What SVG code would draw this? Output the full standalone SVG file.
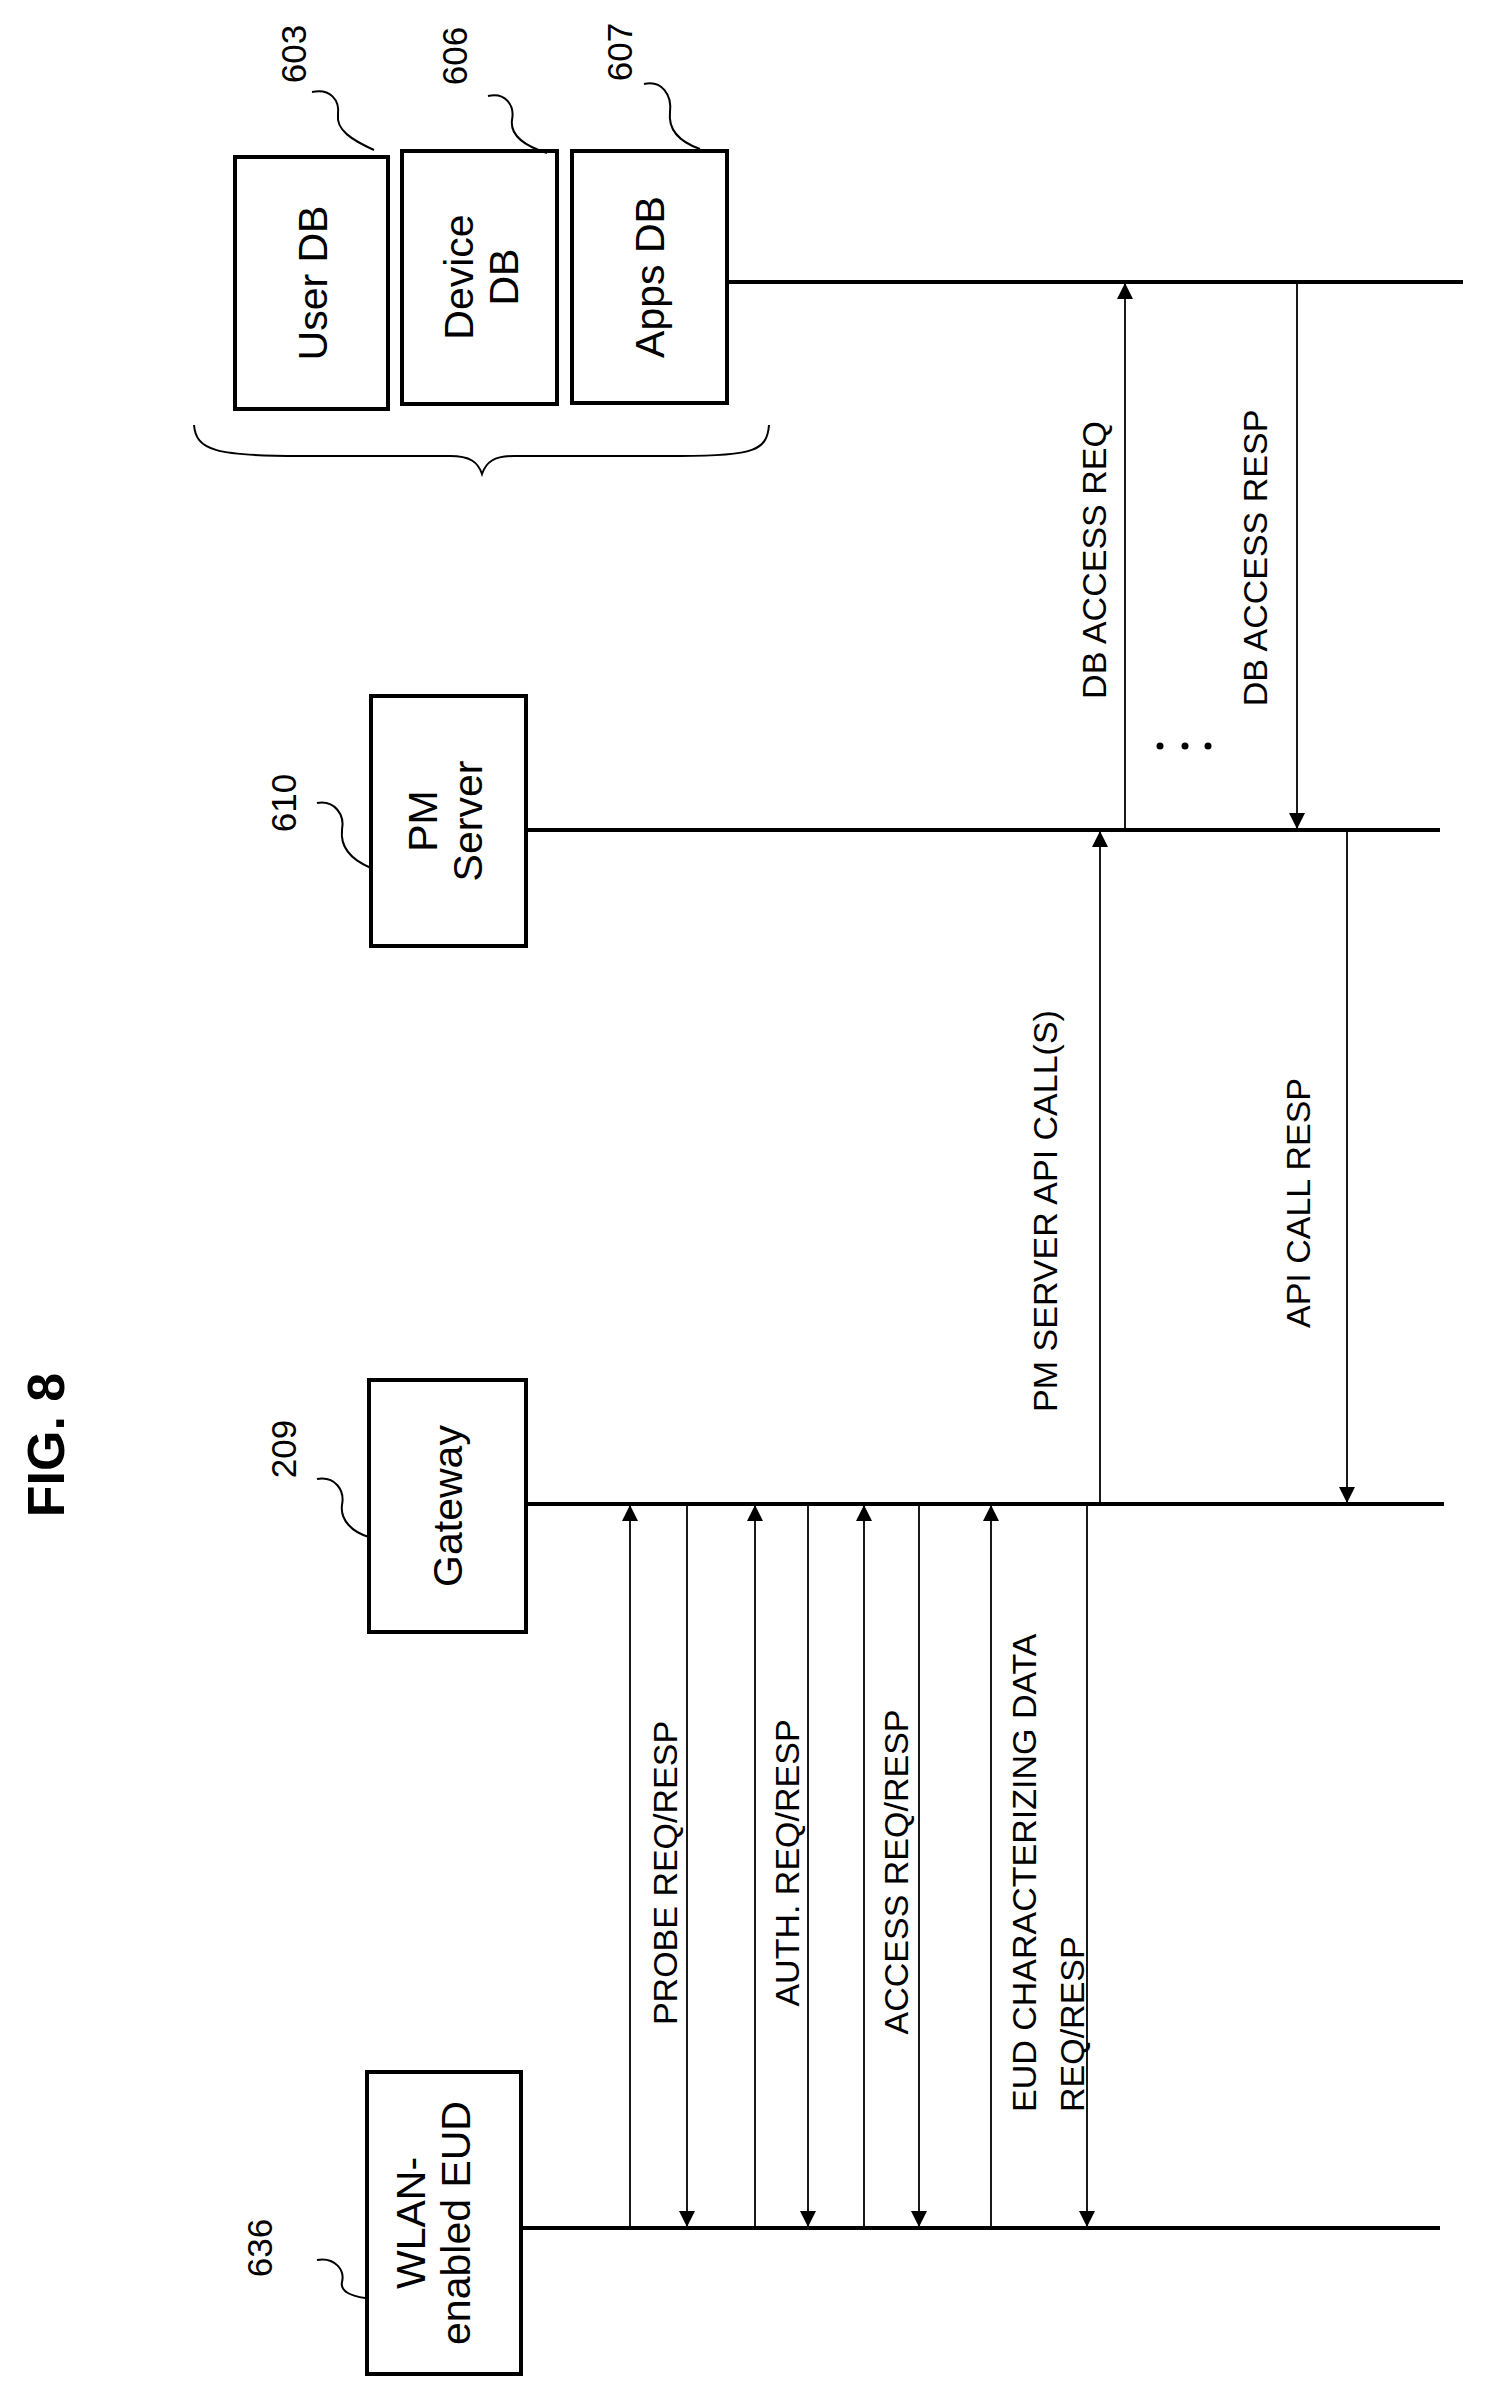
<svg xmlns="http://www.w3.org/2000/svg" width="1485" height="2396" viewBox="0 0 1485 2396">
<defs>
<marker id="ah" viewBox="0 0 10 10" refX="10" refY="5" markerWidth="20" markerHeight="16" markerUnits="userSpaceOnUse" orient="auto"><path d="M0,0 L10,5 L0,10 z" fill="#000"/></marker>
<style>
text{font-family:"Liberation Sans",Arial,sans-serif;fill:#000}
.box{fill:#fff;stroke:#000;stroke-width:4}
.life{stroke:#000;stroke-width:4;fill:none}
.msg{stroke:#000;stroke-width:1.8;fill:none;marker-end:url(#ah)}
.lead{stroke:#000;stroke-width:2;fill:none}
.bt{font-size:41px;text-anchor:middle}
.ml{font-size:34px;text-anchor:middle}
.num{font-size:35px;text-anchor:middle}
</style>
</defs>
<rect width="1485" height="2396" fill="#fff"/>
<text transform="translate(64,1445) rotate(-90)" font-size="52" font-weight="bold" text-anchor="middle">FIG. 8</text>
<g id="userdb"><rect class="box" x="235" y="157" width="153" height="252"/><text class="bt" transform="translate(327,283) rotate(-90)">User DB</text>
<text class="num" transform="translate(306,54) rotate(-90)">603</text><path class="lead" d="M312,92 C330,88 340,100 338,115 C336,130 352,140 374,150"/></g>
<g id="devicedb"><rect class="box" x="402" y="151" width="155" height="253"/><text class="bt" transform="translate(473,277) rotate(-90)">Device</text><text class="bt" transform="translate(518,277) rotate(-90)">DB</text>
<text class="num" transform="translate(467,56) rotate(-90)">606</text><path class="lead" d="M488,96 C505,92 515,105 512,120 C510,135 525,146 547,153"/></g>
<g id="appsdb"><rect class="box" x="572" y="151" width="155" height="252"/><text class="bt" transform="translate(664,277) rotate(-90)">Apps DB</text>
<text class="num" transform="translate(632,52) rotate(-90)">607</text><path class="lead" d="M644,84 C662,80 672,95 670,112 C668,130 680,142 700,149"/></g>
<path class="lead" d="M194,425 C196,450 215,456 300,456 L450,456 C470,456 478,462 482,474 C486,462 494,456 514,456 L680,456 C755,456 767,450 769,425"/>
<g id="pmserver"><rect class="box" x="371" y="696" width="155" height="250"/><text class="bt" transform="translate(437,821) rotate(-90)">PM</text><text class="bt" transform="translate(482,821) rotate(-90)">Server</text>
<text class="num" transform="translate(296,803) rotate(-90)">610</text><path class="lead" d="M317,803 C335,800 345,815 342,830 C340,848 352,860 371,868"/></g>
<g id="gateway"><rect class="box" x="369" y="1380" width="157" height="252"/><text class="bt" transform="translate(462,1506) rotate(-90)">Gateway</text>
<text class="num" transform="translate(296,1449) rotate(-90)">209</text><path class="lead" d="M317,1479 C335,1476 345,1490 342,1505 C340,1520 352,1532 369,1537"/></g>
<g id="eud"><rect class="box" x="367" y="2072" width="154" height="302"/><text class="bt" transform="translate(425,2223) rotate(-90)">WLAN-</text><text class="bt" transform="translate(470,2223) rotate(-90)">enabled EUD</text>
<text class="num" transform="translate(272,2248) rotate(-90)">636</text><path class="lead" d="M317,2260 C335,2257 345,2270 342,2282 C340,2292 352,2296 365,2298"/></g>
<g id="connectors">
<line class="life" x1="727" y1="282" x2="1463" y2="282"/>
<line class="life" x1="526" y1="830" x2="1440" y2="830"/>
<line class="life" x1="526" y1="1504" x2="1444" y2="1504"/>
<line class="life" x1="521" y1="2228" x2="1440" y2="2228"/>
<line class="msg" x1="1125" y1="830" x2="1125" y2="283"/>
<line class="msg" x1="1297" y1="282" x2="1297" y2="829"/>
<line class="msg" x1="1100" y1="1504" x2="1100" y2="831"/>
<line class="msg" x1="1347" y1="830" x2="1347" y2="1503"/>
<line class="msg" x1="630" y1="2228" x2="630" y2="1505"/>
<line class="msg" x1="687" y1="1504" x2="687" y2="2227"/>
<line class="msg" x1="755" y1="2228" x2="755" y2="1505"/>
<line class="msg" x1="808" y1="1504" x2="808" y2="2227"/>
<line class="msg" x1="864" y1="2228" x2="864" y2="1505"/>
<line class="msg" x1="919" y1="1504" x2="919" y2="2227"/>
<line class="msg" x1="991" y1="2228" x2="991" y2="1505"/>
<line class="msg" x1="1087" y1="1504" x2="1087" y2="2227"/>
<circle cx="1160" cy="746" r="3.5"/><circle cx="1185" cy="746" r="3.5"/><circle cx="1208" cy="746" r="3.5"/>
<text class="ml" transform="translate(1106,560) rotate(-90)">DB ACCESS REQ</text>
<text class="ml" transform="translate(1267,558) rotate(-90)">DB ACCESS RESP</text>
<text class="ml" transform="translate(1057,1211) rotate(-90)">PM SERVER API CALL(S)</text>
<text class="ml" transform="translate(1310,1203) rotate(-90)">API CALL RESP</text>
<text class="ml" transform="translate(677,1873) rotate(-90)">PROBE REQ/RESP</text>
<text class="ml" transform="translate(799,1863) rotate(-90)">AUTH. REQ/RESP</text>
<text class="ml" transform="translate(908,1872) rotate(-90)">ACCESS REQ/RESP</text>
<text class="ml" style="text-anchor:start" transform="translate(1036,2112) rotate(-90)">EUD CHARACTERIZING DATA</text>
<text class="ml" style="text-anchor:start" transform="translate(1084,2112) rotate(-90)">REQ/RESP</text>
</g>
</svg>
